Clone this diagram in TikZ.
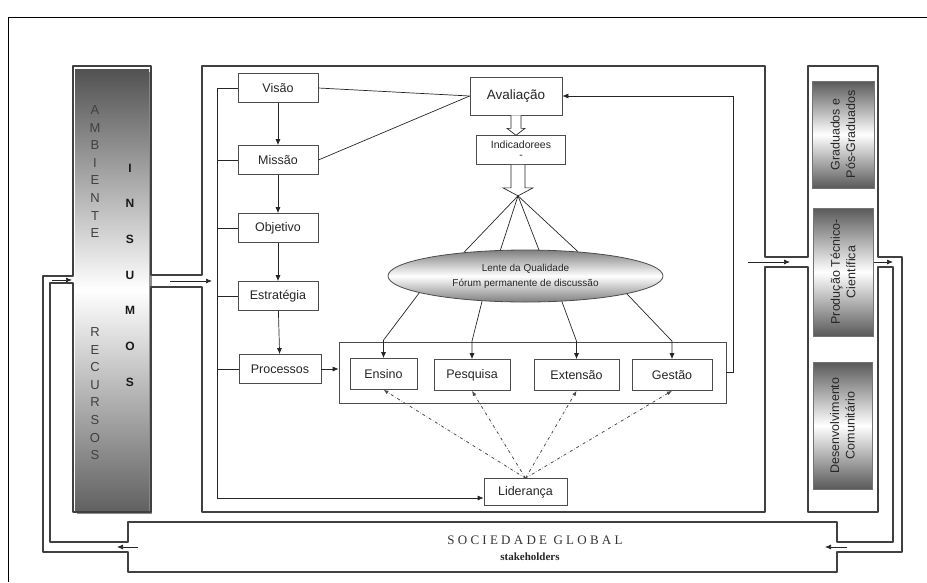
\documentclass[tikz,border=0pt]{standalone}
\usepackage{fontspec}
\setmainfont{Liberation Sans}
\newfontfamily\socfont[LetterSpace=25]{Liberation Serif}
\newfontfamily\stakefont{Liberation Serif}
\usetikzlibrary{arrows.meta,shapes.geometric,calc}

\tikzset{
  etapa/.style={draw=black!70, fill=white, line width=0.7pt, minimum width=80pt, minimum height=29pt, inner sep=2pt, text=black!85, font=\fontsize{12.5}{14}\selectfont},
  area/.style={draw=black!70, fill=white, line width=0.7pt, minimum height=31pt, inner sep=2pt, text=black!85, font=\fontsize{12.5}{14}\selectfont},
  saida/.style={draw=black!55, line width=0.8pt, top color=black!65, bottom color=black!65, middle color=white},
  saidatxt/.style={rotate=90, align=center, text=black!85, font=\fontsize{12.5}{15.5}\selectfont},
  seta/.style={-{Latex[length=6pt,width=5pt]}, line width=0.7pt, black!85},
  linha/.style={line width=0.7pt, black!85},
  traco/.style={dash dot, black!70, line width=0.8pt, -{Latex[length=5pt,width=4pt]}},
  letra/.style={text=black!75, font=\fontsize{13}{13}\selectfont, inner sep=0pt},
  letrab/.style={text=black!90, font=\bfseries\fontsize{12}{12}\selectfont, inner sep=0pt},
  contorno/.style={line width=1.2pt, black!75, line join=round}
}

\begin{document}
\begin{tikzpicture}[x=1pt,y=-1pt]
\useasboundingbox (0,0) rectangle (927,582);
% moldura
\draw[black, line width=0.6pt] (8,582) -- (8,17) -- (927,17);

% coluna ambiente / insumos / recursos
\fill[black!45] (77,72) rectangle (152,514);
\shade[top color=black!68, bottom color=black!62, middle color=white] (75,69) rectangle (149,511);

% contornos externos e internos (caixas ligadas por dutos)
\draw[contorno] (73,276) -- (73,66) -- (151,66) -- (151,275) -- (202,275) -- (202,66)
  -- (765,66) -- (765,257) -- (808,257) -- (808,66) -- (878,66) -- (878,257)
  -- (902,257) -- (902,552) -- (837,552) -- (837,572) -- (128,572) -- (128,552)
  -- (43,552) -- (43,276) -- cycle;
\draw[contorno] (73,283) -- (73,512) -- (151,512) -- (151,287) -- (202,287) -- (202,512)
  -- (765,512) -- (765,267) -- (808,267) -- (808,512) -- (878,512) -- (878,267)
  -- (893,267) -- (893,542) -- (837,542) -- (837,522) -- (128,522) -- (128,542)
  -- (50,542) -- (50,283) -- cycle;

% setas nos dutos
\draw[seta] (52,280) -- (72,280);
\draw[seta] (170,281) -- (212,281);
\draw[seta] (748,262) -- (790,262);
\draw[seta] (873,262) -- (893,262);
\draw[seta] (847,547) -- (825,547);
\draw[seta] (138,547) -- (117,547);

% letras da coluna
\foreach \l [count=\i] in {A,M,B,I,E,N,T,E}
  \node[letra] (amb\i) at (95,{110+17.6*(\i-1)}) {\l};
\foreach \l [count=\i] in {R,E,C,U,R,S,O,S}
  \node[letra] (rec\i) at (95,{332+17.6*(\i-1)}) {\l};
\foreach \l [count=\i] in {I,N,S,U,M,O,S}
  \node[letrab] (ins\i) at (130,{168+35.7*(\i-1)}) {\l};

% etapas
\node[etapa] (visao) at (278,88) {Visão};
\node[etapa] (missao) at (278,160) {Missão};
\node[etapa] (objetivo) at (278,228) {Objetivo};
\node[etapa] (estrategia) at (278,296) {Estratégia};
\node[etapa, minimum width=82pt] (processos) at (280,369) {Processos};

\draw[seta] (visao) -- (missao);
\draw[seta] (missao) -- (objetivo);
\draw[seta] (objetivo) -- (estrategia);
\draw[seta] (estrategia) -- (processos);

% avaliacao e indicadores
\node[etapa, minimum width=92pt, minimum height=38pt, font=\fontsize{13.5}{15}\selectfont] (aval) at (516,96) {Avaliação};
\node[etapa, minimum width=89pt, minimum height=29pt, align=center, font=\fontsize{10.5}{10}\selectfont] (indic) at (521,150) {Indicadorees\\-};
\coordinate (fan) at ($(indic.south)+(-3,31)$);

\draw[linha] (visao.east) -- (aval.west);
\draw[linha] (missao.east) -- (aval.west);

\draw[linha, fill=white] ([xshift=-5pt]aval.south) -- ++(0,13) -- ++(-4,0) -- ++(9,7) -- ++(9,-7) -- ++(-4,0) -- ++(0,-13);
\draw[linha, fill=white] ([xshift=-10pt]indic.south) -- ++(0,23) -- ++(-8,0) -- ++(15,8) -- ++(15,-8) -- ++(-8,0) -- ++(0,-23);

% lente
\node[ellipse, draw=black!70, line width=0.8pt, top color=black!50, bottom color=black!50, middle color=white, minimum width=275pt, minimum height=52pt, inner sep=0pt, align=center, text=black!85, font=\fontsize{10}{15}\selectfont] (lente) at (525.5,276) {Lente da Qualidade\\Fórum permanente de discussão};

\foreach \a in {159,134,63,25}
  \draw[linha] (fan) -- (lente.\a);

% processos finalisticos
\node[draw=black!70, line width=0.7pt, minimum width=387pt, minimum height=61pt] (nucleo) at (532.5,372.5) {};
\node[area, minimum width=67pt] (ensino) at (383.5,374) {Ensino};
\node[area, minimum width=76pt] (pesquisa) at (472,375) {Pesquisa};
\node[area, minimum width=85pt] (extensao) at (576.5,375) {Extensão};
\node[area, minimum width=80pt] (gestao) at (672,375) {Gestão};

\draw[seta] (lente.189) -- ([yshift=18pt]ensino.north) -- (ensino.north);
\draw[seta] (lente.210) -- ([yshift=18pt]pesquisa.north) -- (pesquisa.north);
\draw[seta] (lente.325) -- ([yshift=18pt]extensao.north) -- (extensao.north);
\draw[seta] (lente.350) -- ([yshift=18pt]gestao.north) -- (gestao.north);

\draw[seta] (processos.east) -- (processos.east -| nucleo.west);
\draw[seta] (nucleo.east) -- ++(7,0) |- (aval.east);

% lideranca
\node[etapa, minimum width=83pt, minimum height=27pt] (lider) at (525.5,492) {Liderança};
\foreach \n in {ensino,pesquisa,extensao,gestao}
  \draw[traco] (lider.north) -- (\n.south);

\draw[seta] (visao.west) -- ++(-20,0) |- ([yshift=-6pt]lider.west);
\draw[linha] (missao.west) -- ++(-20,0);
\draw[linha] (objetivo.west) -- ++(-20,0);
\draw[linha] (estrategia.west) -- ++(-20,0);
\draw[linha] (processos.west) -- ++(-22,0);

% resultados
\node[saida, minimum width=62pt, minimum height=107pt] (grad) at (843,134.5) {};
\node[saida, minimum width=60pt, minimum height=128pt] (prod) at (843,272) {};
\node[saida, minimum width=59pt, minimum height=127pt] (desenv) at (842.5,425.5) {};
\node[saidatxt] (gradtxt) at (grad) {Graduados e\\Pós-Graduados};
\node[saidatxt] (prodtxt) at (prod) {Produção Técnico-\\Científica};
\node[saidatxt] (desenvtxt) at (desenv) {Desenvolvimento\\Comunitário};

% sociedade
\node[text=black!80, font=\socfont\fontsize{13}{13}\selectfont] (socg) at (535,540) {SOCIEDADE GLOBAL};
\node[text=black!85, font=\stakefont\bfseries\fontsize{11}{11}\selectfont] (stake) at (530,557) {stakeholders};
\end{tikzpicture}
\end{document}
